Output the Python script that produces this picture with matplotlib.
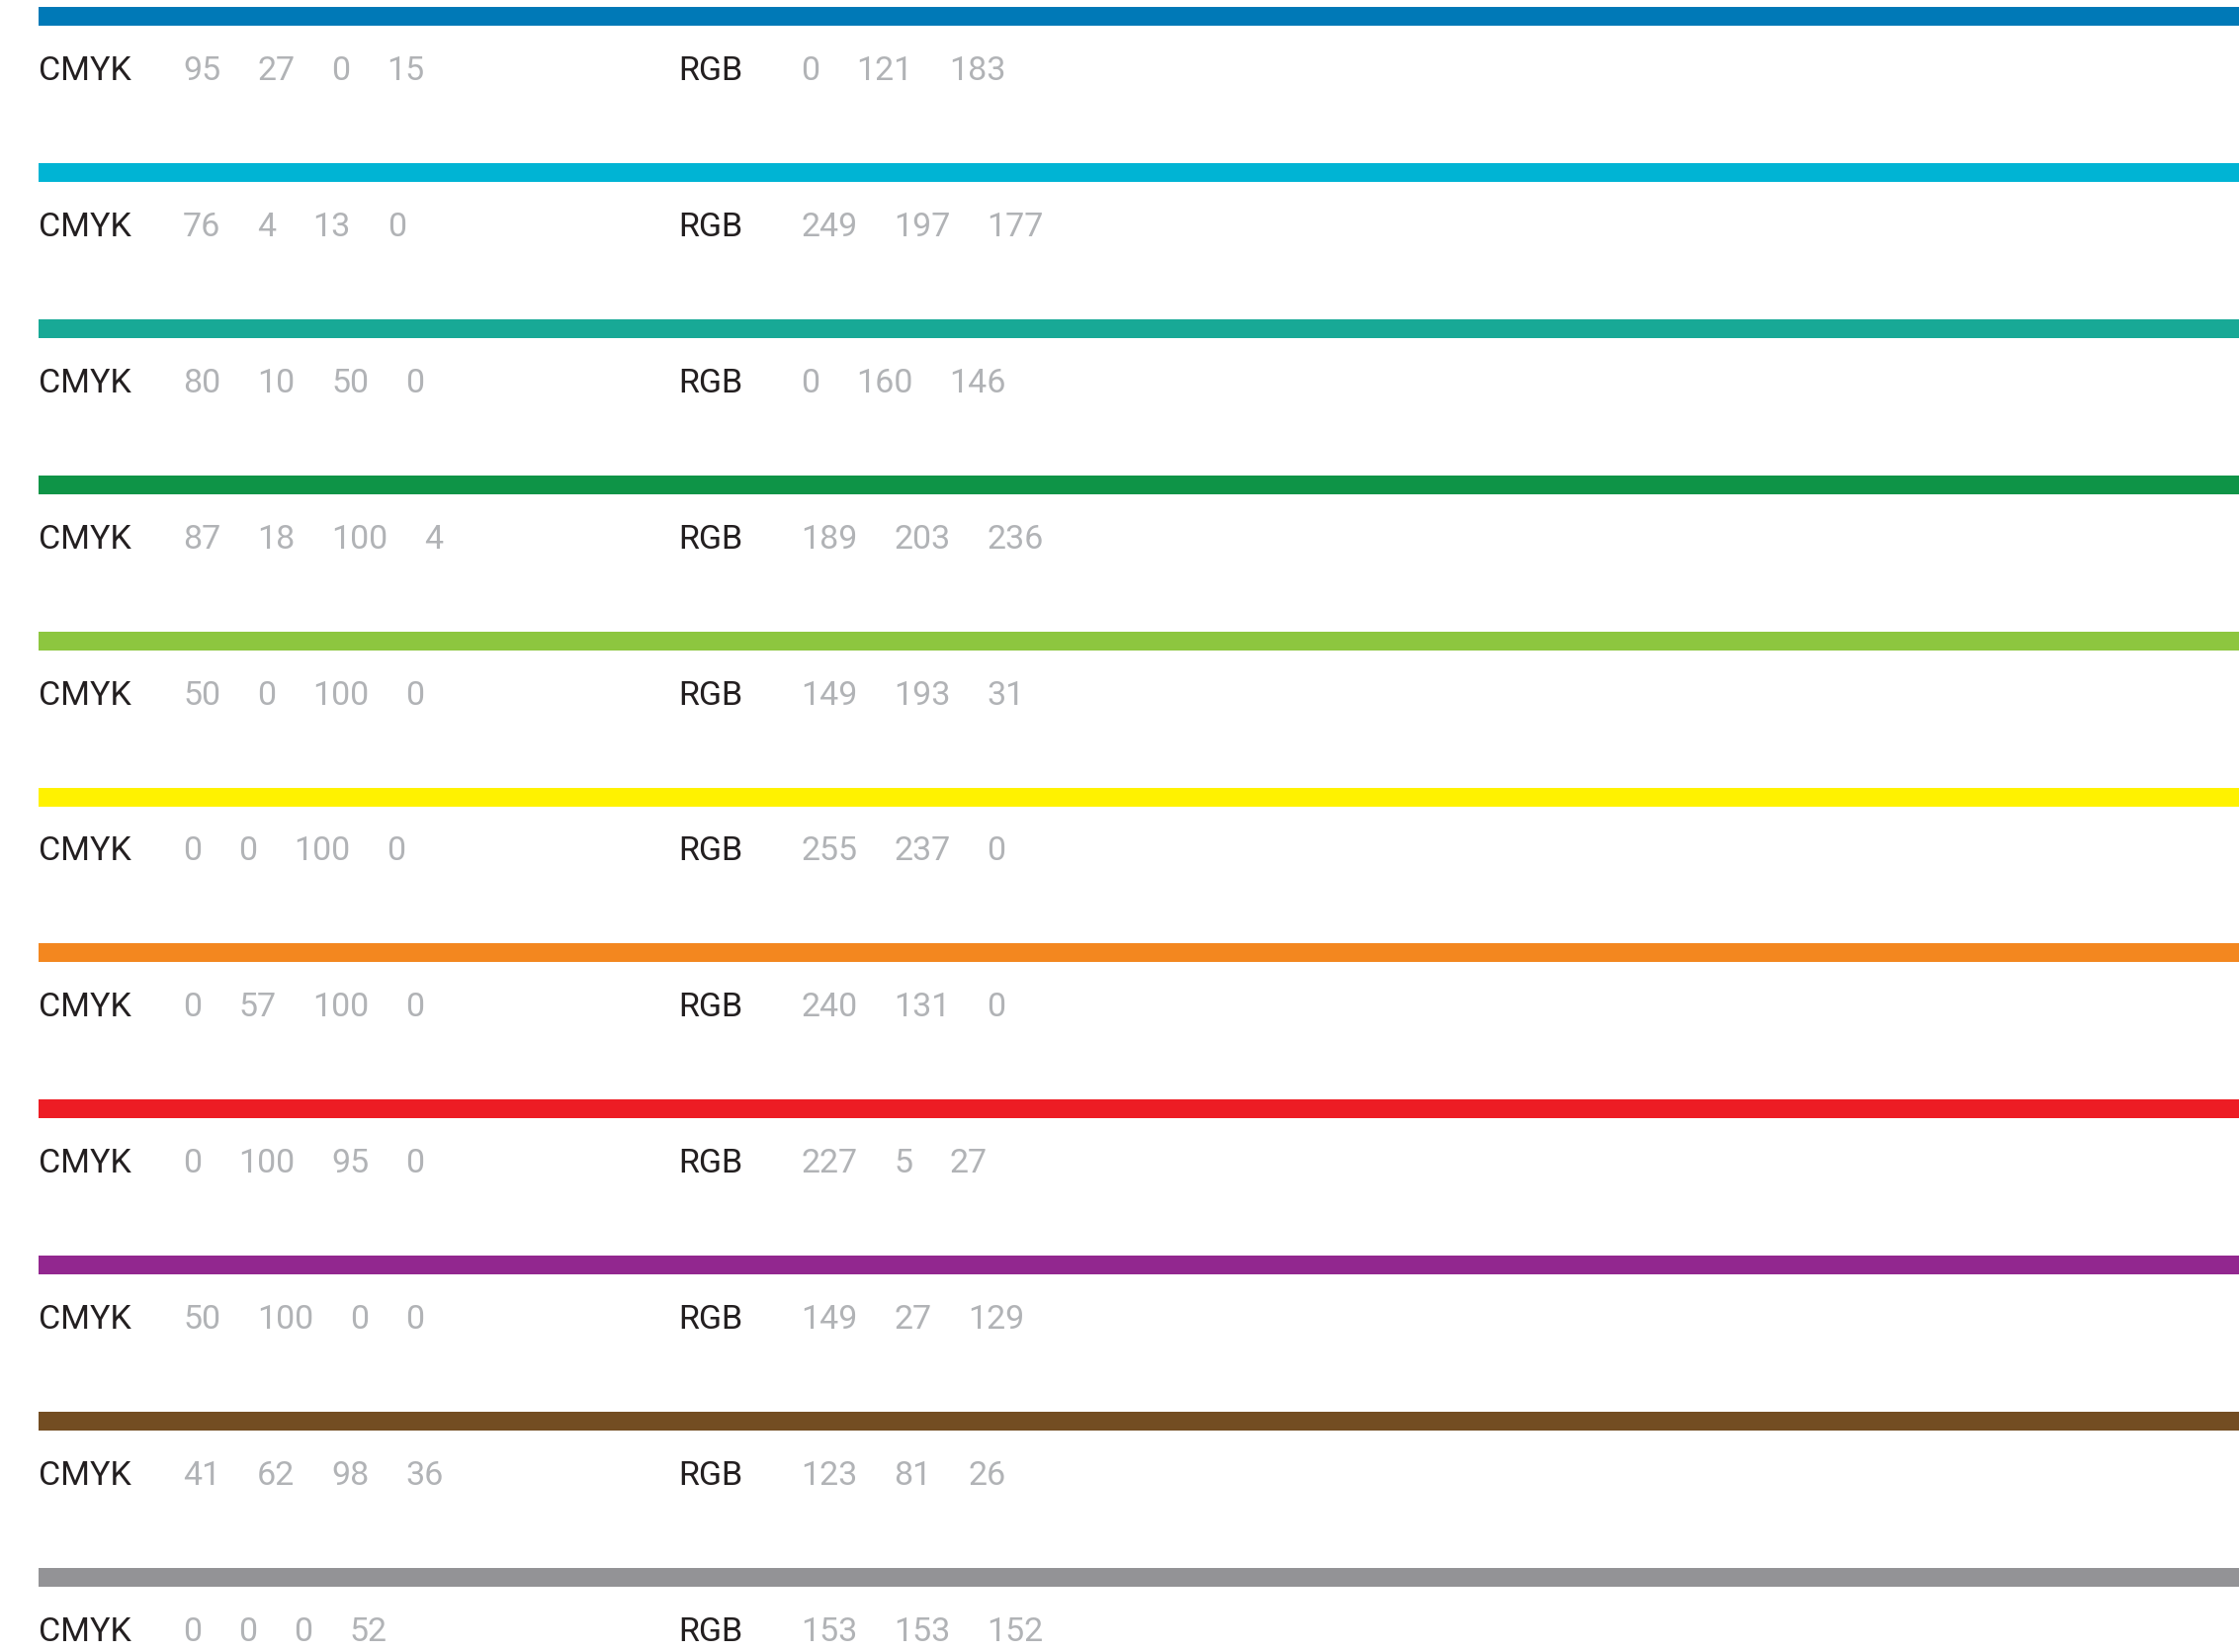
#!/usr/bin/env python3
"""Colour palette swatches with CMYK / RGB reference values."""

import matplotlib

matplotlib.use("Agg")
import matplotlib.pyplot as plt

# swatch colours, top to bottom
BAR_COLORS = [
    "#0079b7", "#00b4d4", "#18a996", "#0e9447", "#8dc63f", "#fff200",
    "#f3871f", "#ed1c24", "#92278f", "#734d22", "#939396",
]
CMYK = [
    (95, 27, 0, 15),
    (76, 4, 13, 0),
    (80, 10, 50, 0),
    (87, 18, 100, 4),
    (50, 0, 100, 0),
    (0, 0, 100, 0),
    (0, 57, 100, 0),
    (0, 100, 95, 0),
    (50, 100, 0, 0),
    (41, 62, 98, 36),
    (0, 0, 0, 52),
]
RGB = [
    (0, 121, 183),
    (249, 197, 177),
    (0, 160, 146),
    (189, 203, 236),
    (149, 193, 31),
    (255, 237, 0),
    (240, 131, 0),
    (227, 5, 27),
    (149, 27, 129),
    (123, 81, 26),
    (153, 153, 152),
]

W, H = 2265, 1671
TOP0, STEP, BAR_H = 7, 157.9, 19
LEFT = 39
BASE_OFF = 74
NUM_X_CMYK, LABEL_X_RGB, NUM_X_RGB = 185, 686, 810
GAP = 37
FS = 24.5
LABEL_COLOR = "#231f20"
NUM_COLOR = "#b1b3b6"

plt.rcParams["font.family"] = ["Roboto", "DejaVu Sans"]

fig = plt.figure(figsize=(W / 100, H / 100), dpi=100)
ax = fig.add_axes([0, 0, 1, 1])
ax.set_xlim(0, W)
ax.set_ylim(H, 0)
ax.axis("off")

centers = [TOP0 + i * STEP + BAR_H / 2 for i in range(len(BAR_COLORS))]
ax.barh(centers, W - LEFT, left=LEFT, height=BAR_H, color=BAR_COLORS)

renderer = fig.canvas.get_renderer()


def put_numbers(x, y, values):
    for v in values:
        t = ax.text(x, y, str(v), fontsize=FS, color=NUM_COLOR,
                    va="baseline", ha="left")
        bb = t.get_window_extent(renderer=renderer)
        x += bb.width + GAP


for i in range(len(BAR_COLORS)):
    y = TOP0 + i * STEP + BASE_OFF
    ax.text(LEFT, y, "CMYK", fontsize=FS, color=LABEL_COLOR,
            va="baseline", ha="left")
    put_numbers(NUM_X_CMYK, y, CMYK[i])
    ax.text(LABEL_X_RGB, y, "RGB", fontsize=FS, color=LABEL_COLOR,
            va="baseline", ha="left")
    put_numbers(NUM_X_RGB, y, RGB[i])

fig.savefig("out.png", dpi=100)
